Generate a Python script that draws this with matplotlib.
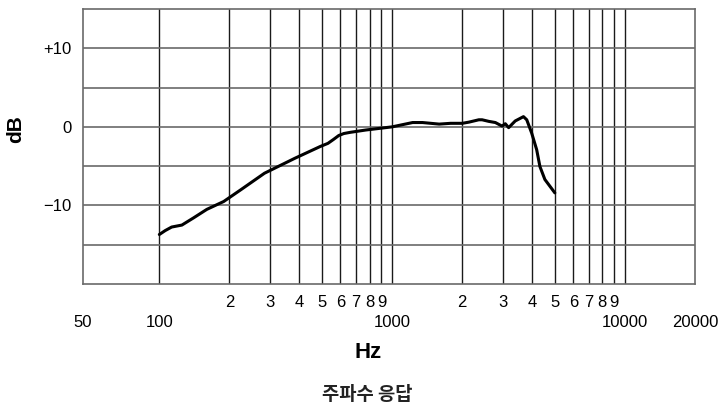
#!/usr/bin/env python3
"""Frequency response chart (주파수 응답)."""

import matplotlib
matplotlib.use("Agg")
import matplotlib.pyplot as plt

plt.rcParams["font.family"] = ["Liberation Sans", "DejaVu Sans"]

# Frequency response (Hz, dB)
freq_hz = [100, 106, 113, 125, 140, 160, 189, 224, 283, 382, 491, 530, 560, 590,
           620, 660, 771, 1000, 1225, 1351, 1592, 1784, 2000, 2137, 2357, 2435,
           2600, 2776, 2965, 3063, 3166, 3379, 3666, 3787, 3977, 4177, 4314, 4531, 5000]
level_db = [-13.7, -13.2, -12.75, -12.5, -11.6, -10.5, -9.5, -8.0, -5.9, -4.0, -2.5,
            -2.1, -1.6, -1.1, -0.85, -0.7, -0.4, 0.0, 0.55, 0.55, 0.35, 0.45, 0.45,
            0.6, 0.9, 0.9, 0.7, 0.55, 0.1, 0.4, -0.1, 0.75, 1.3, 0.9, -0.8, -2.9,
            -5.05, -6.7, -8.4]

# Grid and tick labels
grid_freqs = [100, 200, 300, 400, 500, 600, 700, 800, 900,
              1000, 2000, 3000, 4000, 5000, 6000, 7000, 8000, 9000, 10000]
grid_db = [-15, -10, -5, 0, 5, 10]
major_freqs = [47, 100, 1000, 10000, 20000]
major_labels = ["50", "100", "1000", "10000", "20000"]
minor_freqs = [200, 300, 400, 500, 600, 700, 800, 900,
               2000, 3000, 4000, 5000, 6000, 7000, 8000, 9000]
minor_labels = ["2", "3", "4", "5", "6", "7", "8", "9"] * 2
ytick_vals = [-10, 0, 10]
ytick_labels = ["\u221210", "0", "+10"]

fig = plt.figure(figsize=(7.23, 4.12), dpi=100)
ax = fig.add_axes([83 / 723, 1 - 284 / 412, 612 / 723, 275 / 412])

ax.set_xscale("log")
ax.set_xlim(47, 20000)
ax.set_ylim(-20, 15)

for f in grid_freqs:
    ax.axvline(f, color="#1a1a1a", linewidth=1.0, zorder=1)
for d in grid_db:
    ax.axhline(d, color="#6a6a6a", linewidth=1.2, zorder=1)

ax.plot(freq_hz, level_db, color="black", linewidth=2.2,
        solid_capstyle="round", solid_joinstyle="round", zorder=3)

for s in ax.spines.values():
    s.set_color("#6a6a6a")
    s.set_linewidth(1.2)

ax.set_xticks(major_freqs)
ax.set_xticklabels(major_labels)
ax.set_xticks(minor_freqs, minor=True)
ax.set_xticklabels(minor_labels, minor=True)
ax.tick_params(axis="x", which="major", length=0, pad=22, labelsize=12)
ax.tick_params(axis="x", which="minor", length=0, pad=8, labelsize=12)

ax.set_yticks(ytick_vals)
ax.set_yticklabels(ytick_labels)
ax.tick_params(axis="y", length=0, pad=8, labelsize=12)

fig.text(16 / 723, 1 - 129 / 412, "dB", rotation=90, fontsize=15,
         fontweight="bold", ha="center", va="center")
fig.text(368 / 723, 1 - 352 / 412, "Hz", fontsize=16,
         fontweight="bold", ha="center", va="center")
fig.text(367 / 723, 1 - 395 / 412, "주파수 응답", fontsize=13.5,
         fontweight="bold", ha="center", va="center", color="#222222",
         family=["Noto Sans CJK KR", "DejaVu Sans"])

fig.savefig("out.png", dpi=100)
